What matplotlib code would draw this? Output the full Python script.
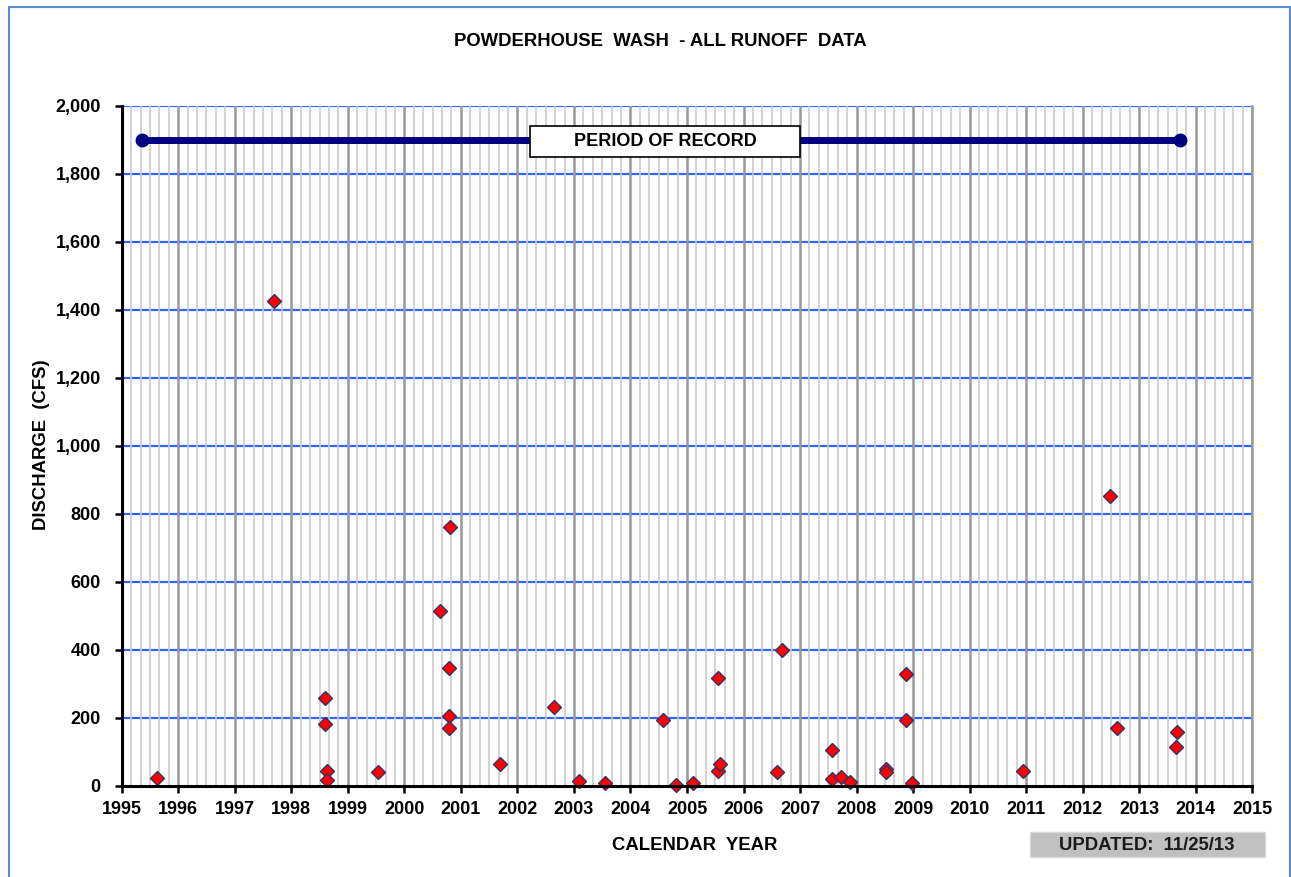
import numpy as np
import matplotlib
matplotlib.use("Agg")
import matplotlib.pyplot as plt
from matplotlib.patches import Rectangle
from matplotlib.ticker import FuncFormatter

plt.rcParams['font.family'] = ['Liberation Sans', 'DejaVu Sans']
plt.rcParams['font.weight'] = 'bold'

# --- data (decimal year, discharge in cfs) ---
years = [1995.62, 1997.69, 1998.60, 1998.60, 1998.63, 1998.64, 1999.53,
         2000.63, 2000.80, 2000.79, 2000.79, 2000.79, 2001.70,
         2002.65, 2003.09, 2003.55, 2004.58, 2004.80, 2005.11,
         2005.54, 2005.54, 2005.59, 2006.60, 2006.68,
         2007.56, 2007.56, 2007.72, 2007.88, 2008.52, 2008.52,
         2008.87, 2008.87, 2008.98, 2010.95, 2012.49, 2012.61,
         2013.65, 2013.66]
flows = [23, 1425, 257, 181, 44, 17, 39,
         514, 760, 345, 206, 169, 64,
         232, 14, 9, 193, 1, 9,
         316, 43, 65, 39, 399,
         106, 19, 27, 10, 49, 39,
         328, 193, 9, 43, 852, 169,
         115, 157]

record_start = 1995.36
record_end = 2013.72
record_level = 1900

year_ticks = list(range(1995, 2016))
flow_ticks = list(range(0, 2001, 200))

W, H = 1291, 877
fig = plt.figure(figsize=(W / 100, H / 100), dpi=100)
ax = fig.add_axes([121.7 / W, 1 - 785.7 / H, (1252.3 - 121.7) / W, (785.7 - 105.7) / H])

ax.set_xlim(1995, 2015)
ax.set_ylim(0, 2000)

# --- grid ---
for y in flow_ticks[1:]:
    ax.axhline(y, color='#3366ff', lw=1.6, zorder=1)
minor = np.arange(1995, 2015.001, 1 / 6)
for x in minor:
    if abs(x - round(x)) > 1e-6:
        ax.axvline(x, color='#cccccc', lw=1.2, zorder=2)
for x in year_ticks[1:]:
    ax.axvline(x, color='#999999', lw=1.8, zorder=2)

# --- period of record ---
ax.plot([record_start, record_end], [record_level, record_level], color='#000080',
        lw=5, marker='o', ms=9, zorder=4, solid_capstyle='butt')
ax.add_patch(Rectangle((2002.22, 1849), 4.78, 91, fc='white', ec='black',
                       lw=1.2, zorder=6))
ax.text(2004.61, 1896, 'PERIOD OF RECORD', ha='center', va='center',
        fontsize=13, fontweight='bold', zorder=7)

# --- runoff events ---
ax.plot(years, flows, linestyle='none', marker='D', ms=7, mfc='#ff0000',
        mec='#333366', mew=1.0, zorder=5, clip_on=False)

# --- axes styling ---
ax.set_xticks(year_ticks)
ax.set_yticks(flow_ticks)
ax.yaxis.set_major_formatter(FuncFormatter(lambda v, p: f"{int(v):,}"))
ax.tick_params(axis='both', direction='out', length=5, width=1.8, color='black',
               labelsize=13)
ax.tick_params(axis='x', pad=6)
ax.tick_params(axis='y', pad=10)
for lab in ax.get_xticklabels() + ax.get_yticklabels():
    lab.set_fontweight('bold')
ax.spines['top'].set_visible(False)
ax.spines['right'].set_color('#999999')
ax.spines['right'].set_linewidth(1.8)
for s in ['left', 'bottom']:
    ax.spines[s].set_linewidth(2.2)
    ax.spines[s].set_zorder(7)

fig.text(660 / W, 1 - 41 / H, 'POWDERHOUSE  WASH  - ALL RUNOFF  DATA', ha='center',
         va='center', fontsize=13.3, fontweight='bold')
fig.text(42 / W, 1 - 445 / H, 'DISCHARGE  (CFS)', rotation=90, ha='center',
         va='center', fontsize=13.3, fontweight='bold')
fig.text(695 / W, 1 - 845 / H, 'CALENDAR  YEAR', ha='center', va='center',
         fontsize=13.3, fontweight='bold')

# updated box
fig.patches.append(Rectangle((1030 / W, 1 - 857 / H), 235 / W, 25 / H,
                             transform=fig.transFigure, fc='#c0c0c0', ec='#d9d9d9', lw=1))
fig.text(1147 / W, 1 - 845 / H, 'UPDATED:  11/25/13', ha='center', va='center',
         fontsize=13.3, fontweight='bold', color='#1a1a1a')

# outer chart frame
fig.patches.append(Rectangle((9 / W, -0.05), 1281 / W, 1.05 - 7 / H,
                             transform=fig.transFigure, fill=False, ec='#5b8bd6', lw=1.5))

fig.savefig('out.png', dpi=100)
